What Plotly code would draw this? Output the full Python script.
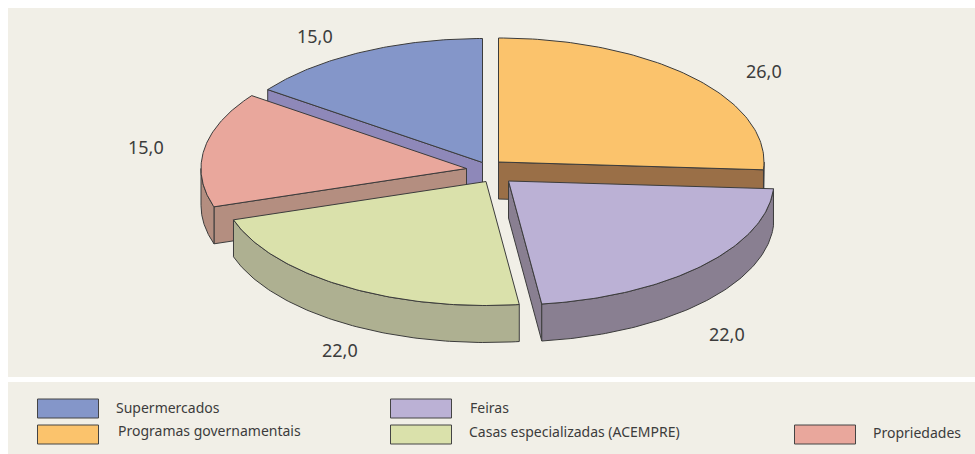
import numpy as np
import plotly.graph_objects as go

# Data
categories = ["Programas governamentais", "Feiras", "Casas especializadas (ACEMPRE)", "Propriedades", "Supermercados"]
values = [26.0, 22.0, 22.0, 15.0, 15.0]
legend_order = ["Supermercados", "Programas governamentais", "Feiras", "Casas especializadas (ACEMPRE)", "Propriedades"]

# Style and layout
top_colors = ["#FBC36C", "#BBB1D5", "#DAE1AB", "#E9A79C", "#8496C9"]
side_colors = ["#9A6F47", "#897F91", "#AEB091", "#B48E80", "#8E88B9"]
apex_x = [498.5, 508.5, 486, 466.5, 482.5]
apex_y = [162, 181, 181.5, 168.5, 162.5]
label_xy = [(763.5, 70.5), (727, 333.5), (340, 349.5), (146, 146.5), (315, 35.5)]
draw_order = [4, 0, 3, 1, 2]
swatches = [(37.5, 399), (37.5, 425), (390.5, 399), (390.5, 425), (794.5, 425)]
legend_text_xy = [(113.5, 407.5), (115.5, 430.5), (467.5, 407.5), (466.5, 431.5), (870.5, 432.5)]
RX, RY, DEPTH = 265.5, 124, 37
LINE = "#3c3c3c"
PANEL = "#F1EFE7"
FONT = "Noto Sans"

fig = go.Figure()


def poly(xs, ys, fill):
    xs = list(xs) + [xs[0]]
    ys = list(ys) + [ys[0]]
    fig.add_trace(go.Scatter(x=xs, y=ys, mode="lines", fill="toself", fillcolor=fill,
                             line=dict(color=LINE, width=1), hoverinfo="skip", showlegend=False))


def rim(a1, a2, n=90):
    return np.radians(np.linspace(a1, a2, n))


starts = 90 - 3.6 * np.concatenate([[0], np.cumsum(values)[:-1]])
ends = 90 - 3.6 * np.cumsum(values)

for i in draw_order:
    cx, cy = apex_x[i], apex_y[i]
    a1, a2 = starts[i], ends[i]  # clockwise, a1 > a2
    # radial faces: visible when the outward normal points towards the viewer side (down)
    for ang, outward in ((a1, 1), (a2, -1)):
        ex, ey = cx + RX * np.cos(np.radians(ang)), cy - RY * np.sin(np.radians(ang))
        dx, dy = ex - cx, ey - cy
        nx, ny = (-dy, dx) if outward == -1 else (dy, -dx)
        if ny > 0:
            poly([cx, ex, ex, cx], [cy, ey, ey + DEPTH, cy + DEPTH], side_colors[i])
    # outer rim: the part of the arc on the near half of the ellipse
    lo, hi = a2, a1
    visible = []
    for k in range(-2, 2):
        l, h = max(lo, -180 + 360 * k), min(hi, 0 + 360 * k)
        if l < h:
            visible.append((l, h))
    for l, h in visible:
        t = rim(h, l)
        xs = cx + RX * np.cos(t)
        ys = cy - RY * np.sin(t)
        poly(list(xs) + list(xs[::-1]), list(ys) + list((ys + DEPTH)[::-1]), side_colors[i])
    # top face
    t = rim(a1, a2)
    poly([cx] + list(cx + RX * np.cos(t)), [cy] + list(cy - RY * np.sin(t)), top_colors[i])

shapes = [
    dict(type="rect", x0=8, x1=975, y0=8, y1=377, fillcolor=PANEL, line_width=0, layer="below"),
    dict(type="rect", x0=8, x1=975, y0=382, y1=454, fillcolor=PANEL, line_width=0, layer="below"),
]
annotations = []
for i, v in enumerate(values):
    annotations.append(dict(x=label_xy[i][0], y=label_xy[i][1], text=f"{v:.1f}".replace(".", ","),
                            showarrow=False, xanchor="center", yanchor="middle",
                            font=dict(family=FONT, size=18, color="#3c3c3c")))
for name, (sx, sy), (tx, ty) in zip(legend_order, swatches, legend_text_xy):
    c = top_colors[categories.index(name)]
    shapes.append(dict(type="rect", x0=sx, x1=sx + 61, y0=sy, y1=sy + 19, fillcolor=c,
                       line=dict(color="#444444", width=1)))
    annotations.append(dict(x=tx, y=ty, text=name, showarrow=False, xanchor="left", yanchor="middle",
                            font=dict(family=FONT, size=14, color="#3c3c3c")))

fig.update_layout(
    width=975, height=454, autosize=False,
    margin=dict(l=0, r=0, t=0, b=0),
    paper_bgcolor="white", plot_bgcolor="white",
    xaxis=dict(range=[0, 975], visible=False, fixedrange=True),
    yaxis=dict(range=[454, 0], visible=False, fixedrange=True),
    shapes=shapes, annotations=annotations, showlegend=False,
)
fig.write_html("out.html", config={"displayModeBar": False},
               post_script="document.body.style.margin='0';document.documentElement.style.overflow='hidden';")
